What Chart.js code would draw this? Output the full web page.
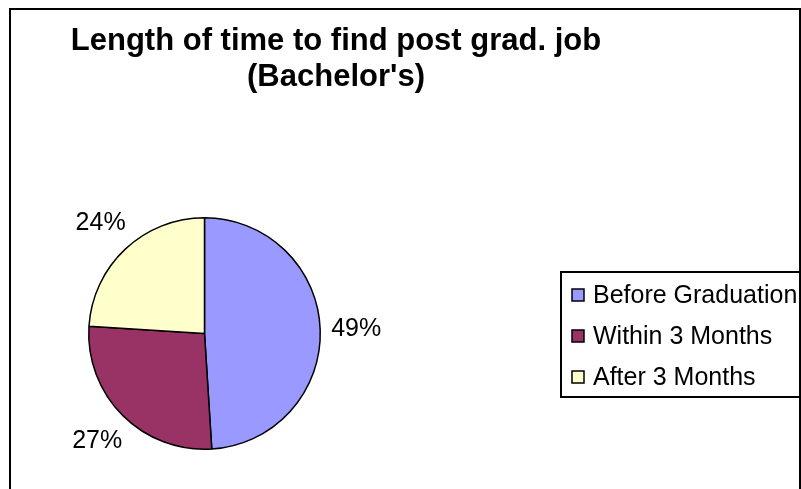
<!DOCTYPE html>
<html>
<head>
<meta charset="utf-8">
<script src="https://cdn.jsdelivr.net/npm/chart.js@4/dist/chart.umd.min.js"></script>
<style>
  html, body { margin: 0; padding: 0; background: #fff; }
  #wrap { width: 801px; height: 489px; position: relative; }
</style>
</head>
<body>
<div id="wrap"><canvas id="chart" width="801" height="489"></canvas></div>
<script>
var categories = ['Before Graduation', 'Within 3 Months', 'After 3 Months'];
var shares = [49, 27, 24];
var sliceColors = ['#9999FF', '#993366', '#FFFFCC'];
var titleLines = ['Length of time to find post grad. job', "(Bachelor's)"];

var FONT = "'Liberation Sans', Arial, sans-serif";

// frame + title, drawn behind the pie
var framePlugin = {
    id: 'frame',
    beforeDraw: function (chart) {
        var c = chart.ctx;
        c.save();
        c.fillStyle = '#fff';
        c.fillRect(0, 0, chart.width, chart.height);
        c.strokeStyle = '#000';
        c.lineWidth = 2;
        c.strokeRect(10, 9, 790, 600);
        c.fillStyle = '#000';
        c.font = 'bold 31px ' + FONT;
        c.textAlign = 'center';
        c.textBaseline = 'alphabetic';
        c.fillText(titleLines[0], 336, 50);
        c.fillText(titleLines[1], 336, 86);
        c.restore();
    }
};

// percent labels outside each slice
var pctPlugin = {
    id: 'pct',
    afterDatasetsDraw: function (chart) {
        var c = chart.ctx;
        var arcs = chart.getDatasetMeta(0).data;
        c.save();
        c.fillStyle = '#000';
        c.font = '25px ' + FONT;
        c.textAlign = 'center';
        c.textBaseline = 'middle';
        arcs.forEach(function (arc, i) {
            var mid = (arc.startAngle + arc.endAngle) / 2;
            var d = arc.outerRadius + 36;
            c.fillText(shares[i] + '%', arc.x + Math.cos(mid) * d, arc.y + Math.sin(mid) * d);
        });
        c.restore();
    }
};

// boxed legend on the right
var legendPlugin = {
    id: 'boxLegend',
    afterDraw: function (chart) {
        var c = chart.ctx;
        c.save();
        c.strokeStyle = '#000';
        c.lineWidth = 2;
        c.strokeRect(561, 272, 300, 125);
        c.font = '25px ' + FONT;
        c.textBaseline = 'middle';
        c.textAlign = 'left';
        categories.forEach(function (name, i) {
            var y = 295 + i * 41;
            c.fillStyle = sliceColors[i];
            c.fillRect(572, y - 6, 12, 12);
            c.lineWidth = 1.5;
            c.strokeStyle = '#000';
            c.strokeRect(572, y - 6, 12, 12);
            c.fillStyle = '#000';
            c.fillText(name, 593, y + 1);
        });
        c.restore();
    }
};

var ctx = document.getElementById('chart').getContext('2d');
var chart = new Chart(ctx, {
    type: 'pie',
    data: {
        labels: categories,
        datasets: [{
            data: shares,
            backgroundColor: sliceColors,
            borderColor: '#000',
            borderWidth: 1.5
        }]
    },
    options: {
        responsive: false,
        animation: false,
        layout: {
            padding: { left: 88, top: 217, right: 480, bottom: 39 }
        },
        plugins: {
            legend: { display: false },
            title: { display: false },
            tooltip: { enabled: false }
        }
    },
    plugins: [framePlugin, pctPlugin, legendPlugin]
});
</script>
</body>
</html>
